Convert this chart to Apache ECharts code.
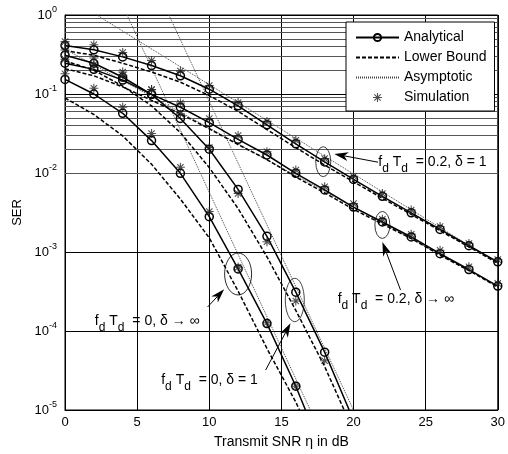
<!DOCTYPE html>
<html>
<head>
<meta charset="utf-8">
<script src="https://cdn.jsdelivr.net/npm/echarts@6/dist/echarts.min.js"></script>
<style>
html, body { margin: 0; padding: 0; background: #fff; }
#chart { width: 508px; height: 454px; }
</style>
</head>
<body>
<div id="chart"></div>
<script>
const snr = [0, 2, 4, 6, 8, 10, 12, 14, 16, 18, 20, 22, 24, 26, 28, 30];

// fd Td = 0.2, delta = 1
const anaA = [0.41, 0.363, 0.295, 0.229, 0.17, 0.115, 0.0708, 0.0407, 0.0234, 0.0138, 0.0083, 0.00507, 0.00313, 0.00193, 0.0012, 0.00075];
const lbA = [0.355, 0.309, 0.245, 0.19, 0.141, 0.0955, 0.0603, 0.0355, 0.0209, 0.0126, 0.00776, 0.00479, 0.00299, 0.00186, 0.00116, 0.00072];
const simA = [0.46, 0.42, 0.335, 0.265, 0.195, 0.128, 0.078, 0.045, 0.026, 0.0152, 0.0091, 0.0055, 0.0034, 0.0021, 0.00128, 0.0008];
const asymA = [[2.2, 1], [30, 7.2e-4]];

// fd Td = 0.2, delta -> inf
const anaB = [0.245, 0.205, 0.15, 0.099, 0.068, 0.0434, 0.0267, 0.0169, 0.0099, 0.0061, 0.0037, 0.0024, 0.00155, 0.00095, 0.0006, 0.00037];
const lbB = [0.209, 0.17, 0.123, 0.0832, 0.0562, 0.0363, 0.0229, 0.0148, 0.0089, 0.0056, 0.00347, 0.00226, 0.00148, 0.00091, 0.000582, 0.000359];
const simB = [0.275, 0.235, 0.172, 0.113, 0.077, 0.049, 0.0298, 0.0186, 0.0109, 0.0067, 0.0041, 0.0026, 0.00168, 0.00105, 0.00065, 0.0004];
const asymB = [[0, 0.37], [30, 3.7e-4]];

// fd Td = 0, delta -> inf
const anaC = [0.153, 0.1, 0.057, 0.0257, 0.0099, 0.0028, 6.1e-4, 1.24e-4, 2.0e-5];
const anaCEnd = [16.67, 1e-5];
const lbC = [0.089, 0.055, 0.0295, 0.0129, 0.00468, 0.00151, 3.2e-4, 6.0e-5, 1.26e-5];
const lbCEnd = [16.25, 1e-5];
const simC = [0.18, 0.118, 0.068, 0.0316, 0.0118, 0.00325, 6.4e-4, 1.27e-4, 2.0e-5];
const asymC = [[4.3, 1], [17.0, 1e-5]];

// fd Td = 0, delta = 1
const anaD = [0.31, 0.245, 0.163, 0.099, 0.049, 0.020, 0.0062, 1.58e-3, 3.1e-4, 5.4e-5];
const anaDEnd = [19.7, 1e-5];
const lbD = [0.263, 0.2, 0.126, 0.0708, 0.0324, 0.0117, 0.00355, 8.7e-4, 1.82e-4, 3.55e-5];
const lbDEnd = [19.35, 1e-5];
const simD = [0.36, 0.285, 0.19, 0.114, 0.056, 0.021, 0.0055, 1.35e-3, 2.4e-4, 4.2e-5];
const asymD = [[7.2, 1], [20.0, 1e-5]];

const xTicks = [0, 5, 10, 15, 20, 25, 30];
const minorSteps = [2, 3, 4, 5, 6, 7, 8, 9];
const decades = [1e-5, 1e-4, 1e-3, 1e-2, 1e-1];

// annotations: text anchor, arrow tail/tip, ellipse center (data coords)
const notes = [
    {text: 'f{s|d} T{s|d}  = 0.2, δ = 1', at: [21.72, 0.0139], tail: [21.7, 0.0137], tip: [18.67, 0.0174], ell: [17.9, 0.0139], rx: 7.5, ry: 15},
    {text: 'f{s|d} T{s|d}  = 0.2, δ → ∞', at: [18.9, 2.56e-4], tail: [23.26, 3.3e-4], tip: [22.0, 1.34e-3], ell: [22.0, 2.2e-3], rx: 7.5, ry: 13.5},
    {text: 'f{s|d} T{s|d}  = 0, δ → ∞', at: [2.07, 1.34e-4], tail: [9.88, 2.01e-4], tip: [11.03, 3.37e-4], ell: [12.0, 5.27e-4], rx: 13.5, ry: 21},
    {text: 'f{s|d} T{s|d}  = 0, δ = 1', at: [6.67, 2.4e-5], tail: [13.91, 3.21e-5], tip: [15.63, 1.25e-4], ell: [15.93, 2.47e-4], rx: 9.5, ry: 21.7}
];

const FONT = 'Liberation Sans';
const asterisk = 'path://M8.8,0L11.2,0L11.2,20L8.8,20Z M0,8.8L20,8.8L20,11.2L0,11.2Z ' +
    'M2.08,3.78L3.78,2.08L17.92,16.22L16.22,17.92Z M16.22,2.08L17.92,3.78L3.78,17.92L2.08,16.22Z';

function pairs(vals, end) {
    const data = vals.map((v, i) => [snr[i], v]);
    if (end) data.push({value: end, symbol: 'none'});
    return data;
}

function analytical(vals, end) {
    return {
        name: 'Analytical', type: 'line', data: pairs(vals, end), z: 6,
        symbol: 'circle', symbolSize: 8,
        lineStyle: {color: '#000', width: 1.5},
        itemStyle: {color: 'rgba(0,0,0,0)', borderColor: '#000', borderWidth: 1.5}
    };
}
function lower(vals, end) {
    return {
        name: 'Lower Bound', type: 'line', data: pairs(vals, end), z: 5,
        showSymbol: false, symbol: 'none',
        lineStyle: {color: '#000', width: 1.5, type: [4, 2]},
        itemStyle: {color: '#000'}
    };
}
function asym(pts) {
    return {
        name: 'Asymptotic', type: 'line', data: pts, z: 4,
        showSymbol: false, symbol: 'none',
        lineStyle: {color: '#444', width: 1, type: [1, 1]},
        itemStyle: {color: '#444'}
    };
}
function sim(vals) {
    return {
        name: 'Simulation', type: 'scatter', data: pairs(vals), z: 7,
        symbol: asterisk, symbolSize: 9,
        itemStyle: {color: '#222'}
    };
}

const chart = echarts.init(document.getElementById('chart'));

const minorGrid = decades.flatMap(d => minorSteps.map(k => ({yAxis: k * d})));

const option = {
    animation: false,
    backgroundColor: '#fff',
    grid: {left: 65, right: 8, top: 15, bottom: 44, show: true, borderColor: '#000', borderWidth: 1},
    xAxis: {
        type: 'value', min: 0, max: 30, interval: 5,
        name: 'Transmit SNR η in dB', nameLocation: 'middle', nameGap: 25,
        nameTextStyle: {fontSize: 14, color: '#000', fontFamily: FONT},
        axisLine: {lineStyle: {color: '#000'}},
        axisTick: {inside: true, length: 4, lineStyle: {color: '#000'}},
        axisLabel: {fontSize: 13, color: '#000', fontFamily: FONT, margin: 6,
            formatter: v => xTicks.includes(v) ? String(v) : ''},
        splitLine: {show: true, lineStyle: {color: '#000', width: 1}}
    },
    yAxis: {
        type: 'log', logBase: 10, min: 1e-5, max: 1,
        name: 'SER', nameLocation: 'middle', nameGap: 37,
        nameTextStyle: {fontSize: 13, color: '#000', fontFamily: FONT},
        axisLine: {lineStyle: {color: '#000'}},
        axisTick: {inside: true, length: 4, lineStyle: {color: '#000'}},
        axisLabel: {
            color: '#000', margin: 8,
            formatter: v => '{b|10}{e|' + Math.round(Math.log10(v)) + '}',
            rich: {
                b: {fontSize: 13, fontFamily: FONT, color: '#000'},
                e: {fontSize: 9, fontFamily: FONT, color: '#000', padding: [0, 0, 11, 0]}
            }
        },
        splitLine: {show: true, lineStyle: {color: '#000', width: 1}}
    },
    legend: {
        data: [
            {name: 'Analytical'},
            {name: 'Lower Bound', itemStyle: {opacity: 0}},
            {name: 'Asymptotic', itemStyle: {opacity: 0}},
            {name: 'Simulation'}
        ],
        orient: 'vertical', left: 346, top: 22, z: 10,
        itemWidth: 43, itemHeight: 9, itemGap: 3,
        padding: [7, 8, 5, 9],
        backgroundColor: '#fff', borderColor: '#000', borderWidth: 1, borderRadius: 0,
        textStyle: {fontSize: 14, color: '#000', fontFamily: FONT, lineHeight: 17}
    },
    series: [
        {
            name: 'grid', type: 'line', data: [[0, 1e-5]], showSymbol: false, symbol: 'none', z: 1,
            lineStyle: {opacity: 0}, silent: true,
            markLine: {
                silent: true, symbol: 'none', label: {show: false}, animation: false,
                lineStyle: {color: '#555', width: 1, type: 'solid'},
                data: minorGrid
            }
        },
        asym(asymA), asym(asymB), asym(asymC), asym(asymD),
        lower(lbA), lower(lbB), lower(lbC, lbCEnd), lower(lbD, lbDEnd),
        analytical(anaA), analytical(anaB), analytical(anaC, anaCEnd), analytical(anaD, anaDEnd),
        sim(simA), sim(simB), sim(simC), sim(simD)
    ]
};
chart.setOption(option);

// annotations placed through the grid's own scales
const px = p => chart.convertToPixel({gridIndex: 0}, p);
const graphics = [];
notes.forEach(n => {
    const c = px(n.ell);
    graphics.push({
        type: 'circle', x: c[0], y: c[1], shape: {cx: 0, cy: 0, r: n.ry}, scaleX: n.rx / n.ry,
        style: {fill: 'none', stroke: '#000', lineWidth: 1, strokeNoScale: true}, z: 20
    });
    const t0 = px(n.tail), t1 = px(n.tip);
    const dx = t1[0] - t0[0], dy = t1[1] - t0[1];
    const len = Math.hypot(dx, dy), ux = dx / len, uy = dy / len;
    const hl = 14, hw = 4.5, notch = 10;
    const bx = t1[0] - ux * hl, by = t1[1] - uy * hl;
    const nx = t1[0] - ux * notch, ny = t1[1] - uy * notch;
    graphics.push({
        type: 'line', shape: {x1: t0[0], y1: t0[1], x2: nx, y2: ny},
        style: {stroke: '#000', lineWidth: 1}, z: 20
    });
    graphics.push({
        type: 'polygon',
        shape: {points: [[t1[0], t1[1]], [bx - uy * hw, by + ux * hw], [nx, ny], [bx + uy * hw, by - ux * hw]]},
        style: {fill: '#000'}, z: 20
    });
    const a = px(n.at);
    graphics.push({
        type: 'text', x: a[0], y: a[1], z: 21,
        style: {
            text: n.text, fontSize: 14, fontFamily: FONT, fill: '#000',
            align: 'left', verticalAlign: 'middle',
            rich: {s: {fontSize: 12, fontFamily: FONT, fill: '#000', padding: [13, 0, 0, 0]}}
        }
    });
});
chart.setOption({graphic: graphics});
</script>
</body>
</html>
